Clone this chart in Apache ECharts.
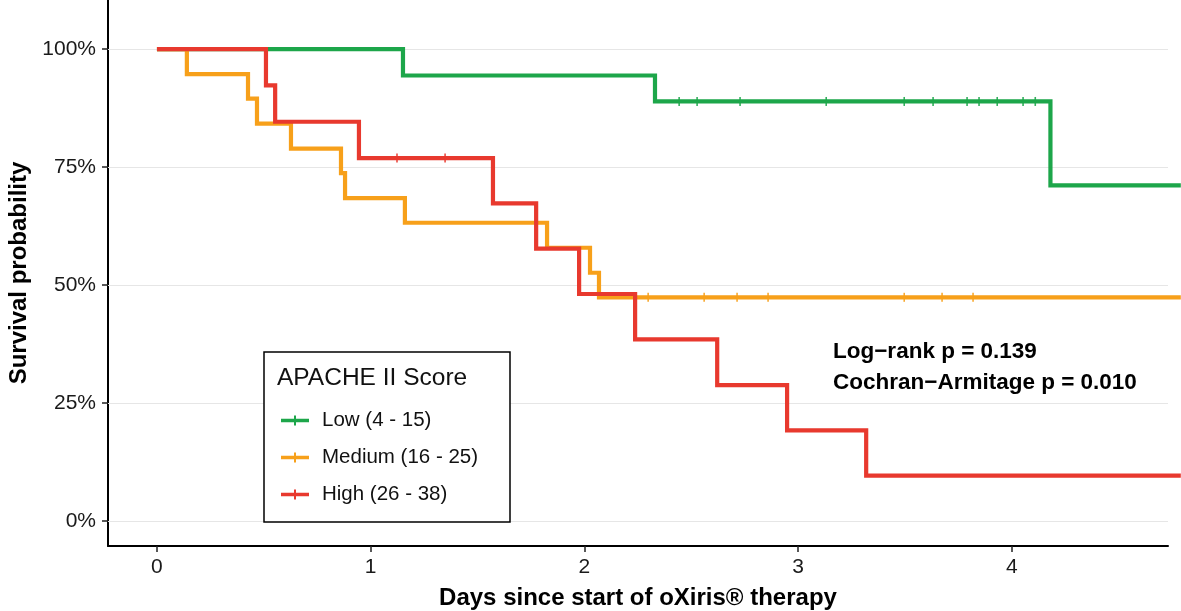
<!DOCTYPE html>
<html>
<head>
<meta charset="utf-8">
<script src="https://cdn.jsdelivr.net/npm/echarts@6/dist/echarts.min.js"></script>
<style>
  html, body { margin: 0; padding: 0; background: #fff; overflow: hidden; }
  #chart { width: 1181px; height: 611px; }
</style>
</head>
<body>
<div id="chart"></div>
<script>
// ---- Data ----
var groupNames = ['Low (4 - 15)', 'Medium (16 - 25)', 'High (26 - 38)'];

// Kaplan–Meier step points: event times (days) and survival (%)
var lowTimes = [0, 1.151, 2.330, 4.180, 4.79];
var lowSurv  = [100, 94.4, 88.9, 71.1, 71.1];
var lowCensorTimes = [2.443, 2.527, 2.728, 3.131, 3.496, 3.631, 3.790, 3.846, 3.931, 4.052, 4.109];

var medTimes = [0, 0.140, 0.426, 0.468, 0.627, 0.861, 0.880, 1.160, 1.825, 2.026, 2.068, 4.79];
var medSurv  = [100, 94.7, 89.5, 84.2, 78.9, 73.7, 68.4, 63.2, 57.9, 52.6, 47.4, 47.4];
var medCensorTimes = [2.298, 2.560, 2.714, 2.859, 3.496, 3.673, 3.818];

var highTimes = [0, 0.510, 0.553, 0.945, 1.572, 1.774, 1.975, 2.237, 2.621, 2.948, 3.318, 4.79];
var highSurv  = [100, 92.3, 84.6, 76.9, 67.3, 57.7, 48.1, 38.5, 28.8, 19.2, 9.6, 9.6];
var highCensorTimes = [1.123, 1.348];

var xTicks = [0, 1, 2, 3, 4];
var yTicks = [0, 25, 50, 75, 100];

var statLines = ['Log\u2212rank p = 0.139', 'Cochran\u2212Armitage p = 0.010'];
var legendTitle = 'APACHE II Score';
var xTitle = 'Days since start of oXiris\u00AE therapy';
var yTitle = 'Survival probability';

// ---- Helpers ----
var colors = ['#1DA64A', '#F7A01A', '#E8392E'];
function pairs(t, s) { return t.map(function (v, i) { return [v, s[i]]; }); }
function survAt(t, times, surv) {
  var v = surv[0];
  for (var i = 0; i < times.length; i++) { if (times[i] <= t) v = surv[i]; }
  return v;
}
function censorPts(ct, times, surv) {
  return ct.map(function (t) { return [t, survAt(t, times, surv)]; });
}

var curves = [
  pairs(lowTimes, lowSurv),
  pairs(medTimes, medSurv),
  pairs(highTimes, highSurv)
];
var censors = [
  censorPts(lowCensorTimes, lowTimes, lowSurv),
  censorPts(medCensorTimes, medTimes, medSurv),
  censorPts(highCensorTimes, highTimes, highSurv)
];

var FONT = '"Liberation Sans", Arial, Helvetica, sans-serif';

// panel geometry: main panel (axes) and a wider drawing panel with identical scale
var PANEL_LEFT = 108, PANEL_RIGHT = 13, PANEL_TOP = 0, PANEL_BOTTOM = 65;
var X_MIN = -0.229, X_MAX = 4.73, Y_MIN = -5.3, Y_MAX = 110.4;
var W = 1181;
var panelW = W - PANEL_LEFT - PANEL_RIGHT;
var pxPerDay = panelW / (X_MAX - X_MIN);
var X_MAX_WIDE = X_MIN + (W - PANEL_LEFT) / pxPerDay;

var series = [];
// horizontal gridlines drawn through the y scale of the main panel
series.push({
  type: 'line', name: '_grid', data: [], silent: true, xAxisIndex: 0, yAxisIndex: 0,
  markLine: {
    silent: true, symbol: ['none', 'none'], z: 1,
    label: { show: false },
    lineStyle: { color: '#e6e6e6', width: 1.2, type: 'solid' },
    emphasis: { disabled: true },
    data: yTicks.map(function (v) { return { yAxis: v }; })
  }
});
for (var g = 0; g < 3; g++) {
  series.push({
    type: 'line', name: groupNames[g], data: curves[g], step: 'end',
    xAxisIndex: 1, yAxisIndex: 1,
    showSymbol: false, z: 2 + g, silent: true,
    lineStyle: { color: colors[g], width: 4.2, join: 'miter', cap: 'butt' },
    itemStyle: { color: colors[g] },
    emphasis: { disabled: true }
  });
}
for (var h = 0; h < 3; h++) {
  series.push({
    type: 'scatter', name: '_c' + h, data: censors[h], silent: true,
    xAxisIndex: 1, yAxisIndex: 1,
    symbol: 'rect', symbolSize: [1.6, 9], z: 6 + h,
    itemStyle: { color: colors[h], opacity: 0.9 },
    emphasis: { disabled: true }
  });
}

var chart = echarts.init(document.getElementById('chart'), null, { renderer: 'canvas' });
chart.setOption({
  animation: false,
  backgroundColor: '#ffffff',
  textStyle: { fontFamily: FONT },
  grid: [
    { left: PANEL_LEFT, right: PANEL_RIGHT, top: PANEL_TOP, bottom: PANEL_BOTTOM, containLabel: false, outerBoundsMode: 'none' },
    { left: PANEL_LEFT, right: 0, top: PANEL_TOP, bottom: PANEL_BOTTOM, containLabel: false, outerBoundsMode: 'none' }
  ],
  xAxis: [{
    type: 'value', min: X_MIN, max: X_MAX, gridIndex: 0,
    axisLine: { show: true, onZero: false, lineStyle: { color: '#000', width: 2 } },
    axisTick: { show: true, customValues: xTicks, length: 6, lineStyle: { color: '#222', width: 1.5 } },
    axisLabel: { customValues: xTicks, color: '#1a1a1a', fontSize: 21, margin: 11, fontFamily: FONT },
    splitLine: { show: false },
    name: xTitle, nameLocation: 'middle', nameGap: 40,
    nameTextStyle: { fontSize: 24, fontWeight: 'bold', color: '#000', fontFamily: FONT }
  }, {
    type: 'value', min: X_MIN, max: X_MAX_WIDE, gridIndex: 1, show: false,
    splitLine: { show: false }
  }],
  yAxis: [{
    type: 'value', min: Y_MIN, max: Y_MAX, gridIndex: 0,
    axisLine: { show: true, onZero: false, lineStyle: { color: '#000', width: 2 } },
    axisTick: { show: true, customValues: yTicks, length: 6, lineStyle: { color: '#222', width: 1.5 } },
    axisLabel: {
      customValues: yTicks, color: '#1a1a1a', fontSize: 21, margin: 12, fontFamily: FONT,
      formatter: function (v) { return v + '%'; }
    },
    splitLine: { show: false },
    name: yTitle, nameLocation: 'middle', nameGap: 77, nameRotate: 90,
    nameTextStyle: { fontSize: 24, fontWeight: 'bold', color: '#000', fontFamily: FONT }
  }, {
    type: 'value', min: Y_MIN, max: Y_MAX, gridIndex: 1, show: false,
    splitLine: { show: false }
  }],
  legend: {
    data: groupNames, orient: 'vertical', left: 276, top: 405, z: 20,
    itemWidth: 28, itemHeight: 10, itemGap: 16,
    icon: 'path://M0,3.2H28V6.8H0Z M13,0H15V10H13Z',
    selectedMode: false,
    itemStyle: { borderWidth: 0 },
    textStyle: { fontSize: 20.5, color: '#111', lineHeight: 21, padding: [0, 0, 0, 8], fontFamily: FONT }
  },
  graphic: [
    {
      type: 'rect', z: 15, silent: true,
      shape: { x: 264, y: 352, width: 246, height: 170 },
      style: { fill: '#fff', stroke: '#000', lineWidth: 1.5 }
    },
    {
      type: 'text', z: 16, silent: true, x: 277, y: 378,
      style: { text: legendTitle, fill: '#111', font: '24.5px ' + FONT, verticalAlign: 'middle' }
    },
    {
      type: 'text', z: 16, silent: true, x: 833, y: 352,
      style: { text: statLines[0], fill: '#000', font: 'bold 22.5px ' + FONT, verticalAlign: 'middle' }
    },
    {
      type: 'text', z: 16, silent: true, x: 833, y: 383,
      style: { text: statLines[1], fill: '#000', font: 'bold 22.5px ' + FONT, verticalAlign: 'middle' }
    }
  ],
  series: series
});
</script>
</body>
</html>
